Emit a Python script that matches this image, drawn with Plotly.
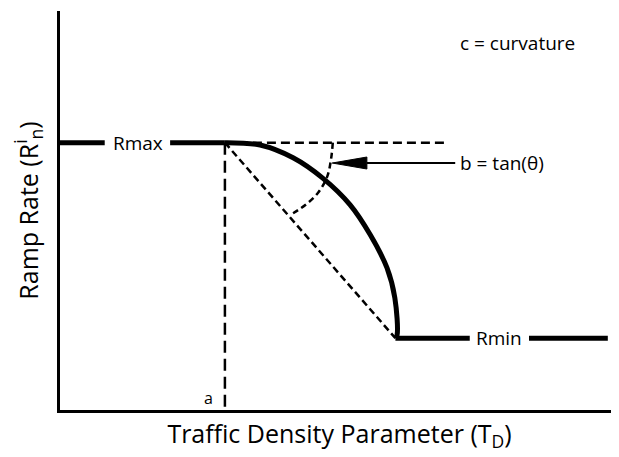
import plotly.graph_objects as go

# values, axis units 0-10 on both axes
a_x = 2.95
r_max = 6.7
r_min = 1.8
r_min_x = 6.0

rmax_seg_x = [0, 0.8, None, 1.97, a_x]
rmin_seg_x = [r_min_x, 7.33, None, 8.39, 9.8]

curve_x = [2.95, 3.58, 4.17, 4.70, 5.19, 5.55, 5.85, 5.99, 6.03, 6.0]
curve_y = [6.7, 6.64, 6.32, 5.81, 5.14, 4.39, 3.56, 2.81, 1.88, 1.8]

angle_x = [4.88, 4.85, 4.78, 4.62, 4.40, 4.17]
angle_y = [6.7, 6.3, 5.85, 5.45, 5.15, 4.93]

dash_h_end = 6.94
arrow_y = 6.19
arrow_tail_x = 7.07
arrow_tip_x = 4.87

FONT = "Open Sans"

fig = go.Figure()

thick = dict(color="black", width=5)
dashed = dict(color="black", width=2.5, dash="9px,5px")

fig.add_trace(go.Scatter(x=rmax_seg_x, y=[r_max] * len(rmax_seg_x), mode="lines", line=thick))
fig.add_trace(go.Scatter(x=rmin_seg_x, y=[r_min] * len(rmin_seg_x), mode="lines", line=thick))
fig.add_trace(go.Scatter(x=curve_x, y=curve_y, mode="lines", line=dict(color="black", width=5, shape="spline")))

# dashed guides
fig.add_trace(go.Scatter(x=[a_x, dash_h_end], y=[r_max, r_max], mode="lines", line=dashed))
fig.add_trace(go.Scatter(x=[a_x, a_x], y=[r_max, 0], mode="lines", line=dict(color="black", width=2.5, dash="12px,6px")))
fig.add_trace(go.Scatter(x=[a_x, r_min_x], y=[r_max, r_min], mode="lines", line=dict(color="black", width=2.5, dash="7px,4px")))
fig.add_trace(go.Scatter(x=angle_x, y=angle_y, mode="lines", line=dict(color="black", width=2.5, dash="6px,4px", shape="spline")))

# arrow pointing at the angle: shaft plus a long narrow head
head_len = 0.62
head_half = 0.15
fig.add_trace(go.Scatter(x=[arrow_tip_x + head_len, arrow_tail_x], y=[arrow_y, arrow_y], mode="lines",
                         line=dict(color="black", width=2)))
fig.add_trace(go.Scatter(x=[arrow_tip_x, arrow_tip_x + head_len, arrow_tip_x + head_len, arrow_tip_x],
                         y=[arrow_y, arrow_y + head_half, arrow_y - head_half, arrow_y],
                         mode="lines", fill="toself", fillcolor="black", line=dict(color="black", width=1)))

lab = dict(family=FONT, size=19, color="black")
fig.add_annotation(x=1.39, y=r_max, text="Rmax", showarrow=False, font=lab)
fig.add_annotation(x=7.86, y=r_min, text="Rmin", showarrow=False, font=lab)
fig.add_annotation(x=7.12, y=9.2, text="c = curvature", showarrow=False, font=lab, xanchor="left")
fig.add_annotation(x=7.12, y=arrow_y, text="b = tan(θ)", showarrow=False, font=lab, xanchor="left")
fig.add_annotation(x=2.65, y=0.3, text="a", showarrow=False, font=dict(family=FONT, size=16, color="black"))

# page body has an 8px margin, so the figure is sized to sit inside the window
fig.update_layout(
    width=611, height=449,
    margin=dict(l=52, r=0, t=3, b=47),
    plot_bgcolor="white", paper_bgcolor="white",
    showlegend=False,
    font=dict(family=FONT, color="black"),
)
fig.update_xaxes(range=[0, 10], showline=True, linecolor="black", linewidth=2.5, automargin=False,
                 showgrid=False, zeroline=False, showticklabels=False, ticks="",
                 title=dict(text="Traffic Density Parameter (T<sub>D</sub>)", font=dict(size=25), standoff=14))
fig.update_yaxes(range=[0, 10], showline=True, linecolor="black", linewidth=2.5, automargin=False,
                 showgrid=False, zeroline=False, showticklabels=False, ticks="",
                 title=dict(text="Ramp Rate (R<sup>i</sup><sub>n</sub>)", font=dict(size=25), standoff=18))

fig.write_html("out.html")
